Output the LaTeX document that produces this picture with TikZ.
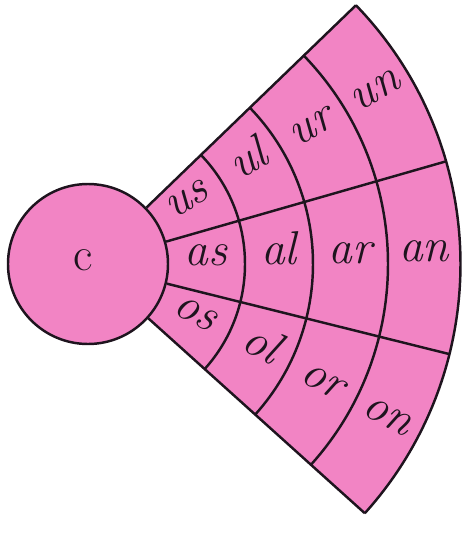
\documentclass[tikz,border=0pt]{standalone}
\usepackage{tikz}
\usetikzlibrary{positioning,calc}
\definecolor{fanpink}{RGB}{242,132,196}
\definecolor{inkline}{RGB}{30,20,30}

\begin{document}
\begin{tikzpicture}[
  edge/.style={line width=1.4pt, inkline},
  sound/.style={font=\fontsize{27}{29}\selectfont\itshape, text=inkline, inner sep=0pt, text height=1ex, text depth=0pt}]
  \useasboundingbox (-1.76,-5.56) rectangle (7.54,5.28);

  % Fan behind the hub
  \fill[fanpink] (44:1.2) -- (44:7.45) arc[start angle=44, end angle=-42, radius=7.45] -- (-42:1.2) -- cycle;
  \node[circle, edge, draw, fill=fanpink, minimum size=3.2cm, inner sep=0pt] (hub) at (0,0) {};
  \node[sound, font=\fontsize{27}{29}\selectfont] (c) at (-0.1,-0.05) {c};

  % Rings
  \draw[edge] (44:3.14) arc[start angle=44, end angle=-42, radius=3.14];
  \draw[edge] (44:4.5) arc[start angle=44, end angle=-42, radius=4.5];
  \draw[edge] (44:6.0) arc[start angle=44, end angle=-42, radius=6.0];
  \draw[edge] (44:7.45) arc[start angle=44, end angle=-42, radius=7.45];

  % Spokes
  \draw[edge] (hub.44) -- (44:7.45);
  \draw[edge] (hub.16) -- (16:7.45);
  \draw[edge] (hub.-14) -- (-14:7.45);
  \draw[edge] (hub.-42) -- (-42:7.45);

  % Top row
  \node[sound, rotate=30] (us) at (30:2.36) {us};
  \node[sound, rotate=30] (ul) at (30:3.82) {ul};
  \node[sound, rotate=30] (ur) at (30:5.24) {ur};
  \node[sound, rotate=30] (un) at (30:6.72) {un};

  % Middle row
  \node[sound] (as) at (1:2.36) {as};
  \node[sound] (al) at (1:3.82) {al};
  \node[sound] (ar) at (1:5.24) {ar};
  \node[sound] (an) at (1:6.72) {an};

  % Bottom row
  \node[sound, rotate=-28] (os) at (-28:2.36) {os};
  \node[sound, rotate=-28] (ol) at (-28:3.82) {ol};
  \node[sound, rotate=-28] (or) at (-28:5.24) {or};
  \node[sound, rotate=-28] (on) at (-28:6.72) {on};
\end{tikzpicture}
\end{document}
